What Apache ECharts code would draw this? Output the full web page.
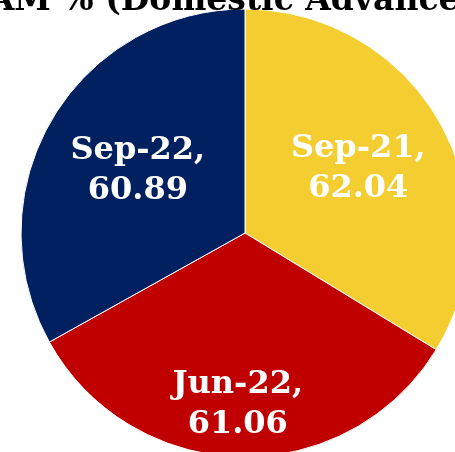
<!DOCTYPE html>
<html><head><meta charset="utf-8">
<script src="https://cdn.jsdelivr.net/npm/echarts@6/dist/echarts.min.js"></script>
<style>html,body{margin:0;padding:0;background:#fff}#c{width:455px;height:452px}</style>
</head><body><div id="c"></div>
<script>
const titleText = 'RAM % (Domestic Advances)';
const categories = ['Sep-21', 'Jun-22', 'Sep-22'];
const values = [62.04, 61.06, 60.89];
const colors = ['#F4CD30', '#C00000', '#002060'];
const labelShift = [[13, -8], [-5, 57], [-8, -4]];

const chart = echarts.init(document.getElementById('c'), null, {renderer: 'canvas'});
chart.setOption({
  animation: false,
  title: {
    text: titleText, left: 'center', top: -20,
    textStyle: {fontFamily: 'DejaVu Serif', fontWeight: 'bold', fontSize: 33, color: '#000'}
  },
  series: [{
    type: 'pie', center: [245, 233], radius: 224, startAngle: 90, clockwise: true,
    itemStyle: {borderColor: '#fff', borderWidth: 1},
    label: {
      position: 'inside', formatter: p => p.name + ',\n' + p.value.toFixed(2),
      color: '#fff', fontFamily: 'DejaVu Serif', fontWeight: 'bold', fontSize: 32, lineHeight: 40
    },
    labelLayout: p => ({dx: labelShift[p.dataIndex][0], dy: labelShift[p.dataIndex][1]}),
    data: categories.map((c, i) => ({name: c, value: values[i], itemStyle: {color: colors[i]}}))
  }]
});
</script></body></html>
